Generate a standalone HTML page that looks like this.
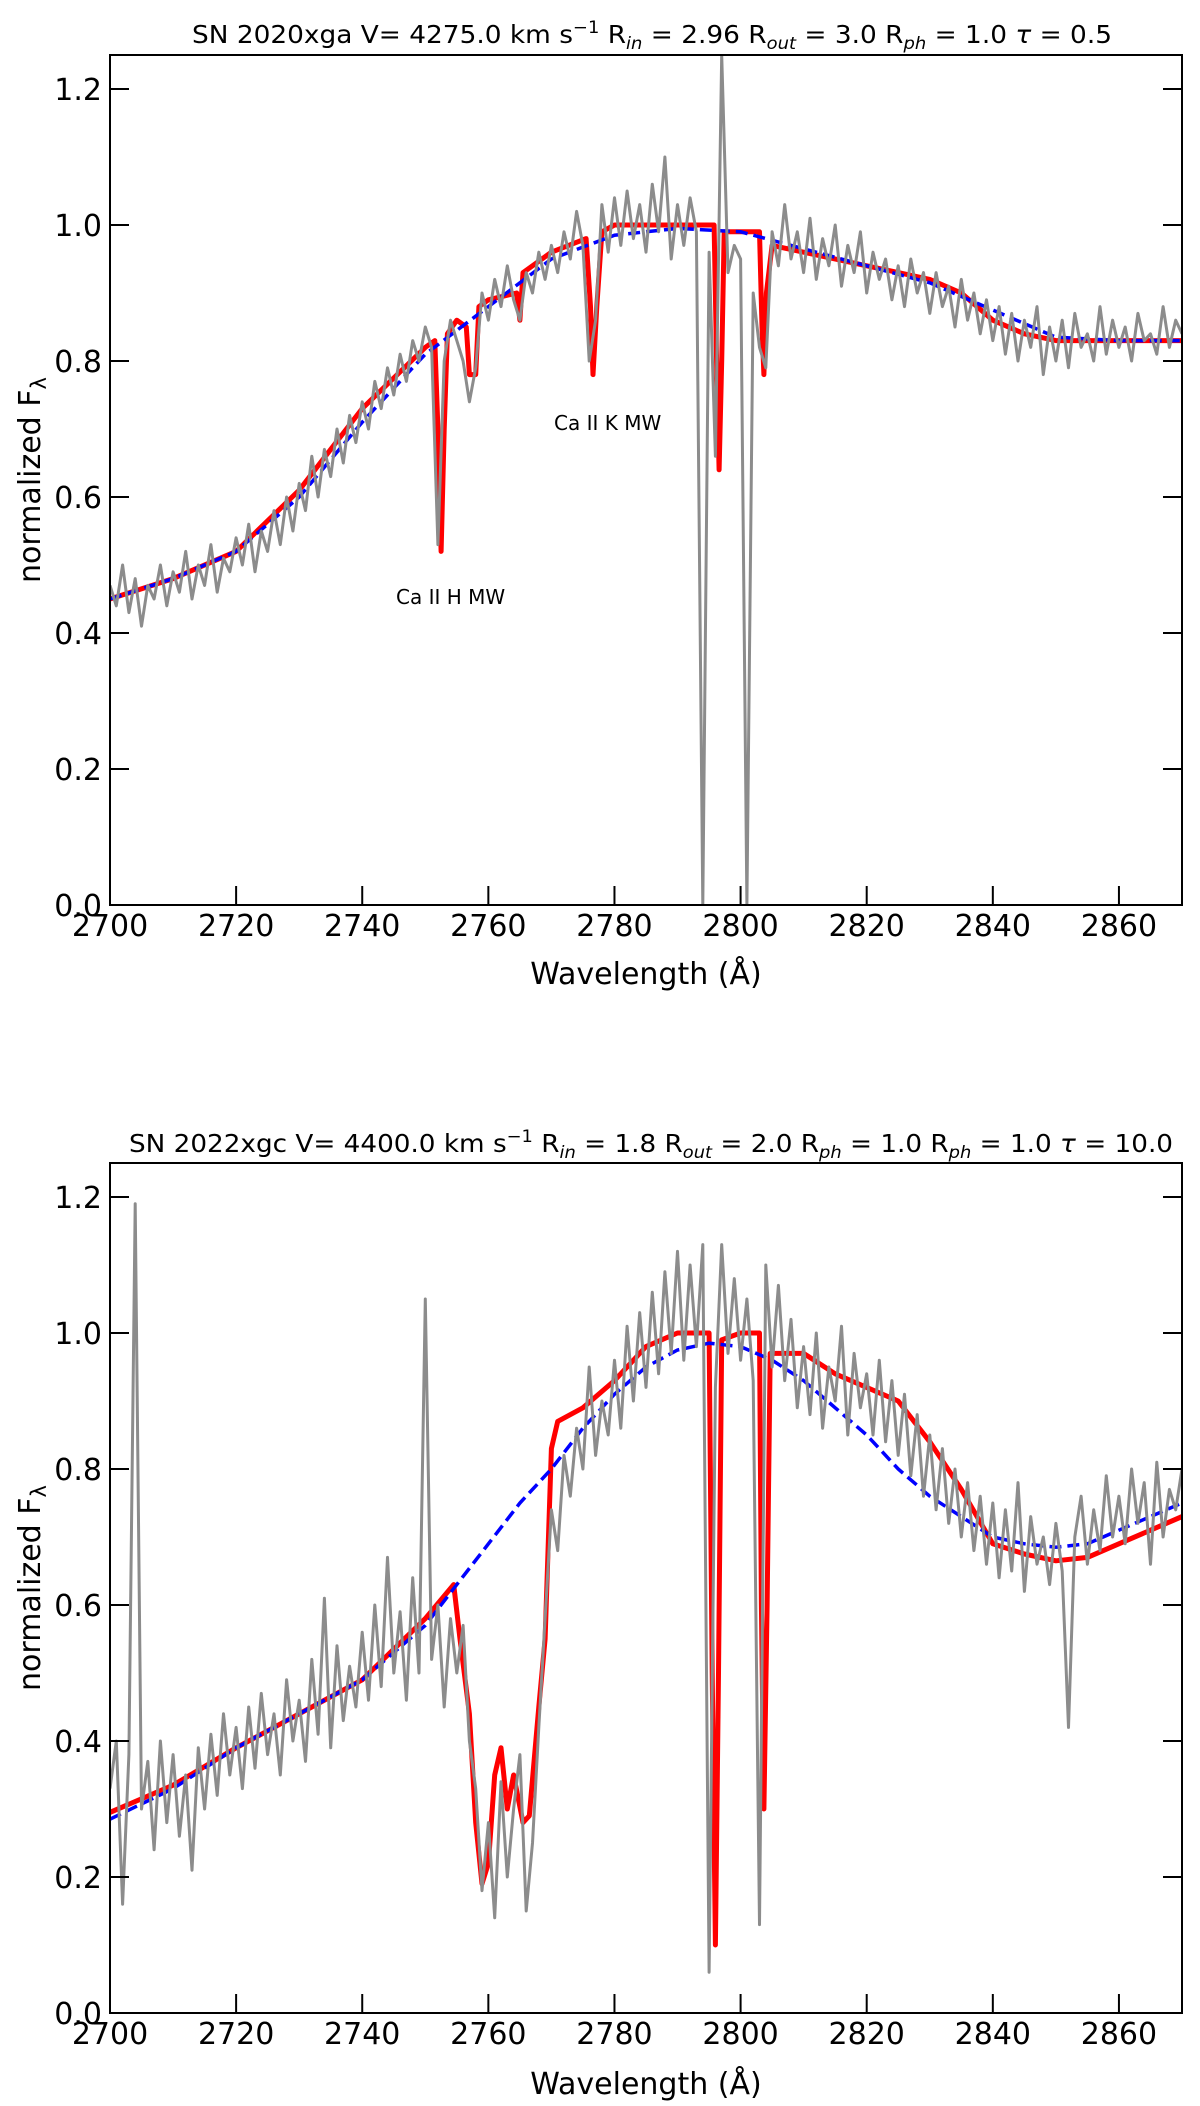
<!DOCTYPE html>
<html><head><meta charset="utf-8"><style>
body{margin:0;background:#fff}
svg{display:block;font-family:"DejaVu Sans","Liberation Sans",sans-serif}
</style></head><body>
<svg id="fig" width="1200" height="2106" viewBox="0 0 1200 2106">
<text x="652" y="43" font-size="25" text-anchor="middle" textLength="920" lengthAdjust="spacingAndGlyphs">SN 2020xga V= 4275.0 km s<tspan dy="-10" font-size="17">−1</tspan><tspan dy="10"> R</tspan><tspan dy="6" font-size="17" font-style="italic">in</tspan><tspan dy="-6"> = 2.96 R</tspan><tspan dy="6" font-size="17" font-style="italic">out</tspan><tspan dy="-6"> = 3.0 R</tspan><tspan dy="6" font-size="17" font-style="italic">ph</tspan><tspan dy="-6"> = 1.0 </tspan><tspan font-style="italic">τ</tspan> = 0.5</text>
<text x="651" y="1152" font-size="25" text-anchor="middle" textLength="1044" lengthAdjust="spacingAndGlyphs">SN 2022xgc V= 4400.0 km s<tspan dy="-10" font-size="17">−1</tspan><tspan dy="10"> R</tspan><tspan dy="6" font-size="17" font-style="italic">in</tspan><tspan dy="-6"> = 1.8 R</tspan><tspan dy="6" font-size="17" font-style="italic">out</tspan><tspan dy="-6"> = 2.0 R</tspan><tspan dy="6" font-size="17" font-style="italic">ph</tspan><tspan dy="-6"> = 1.0 R</tspan><tspan dy="6" font-size="17" font-style="italic">ph</tspan><tspan dy="-6"> = 1.0 </tspan><tspan font-style="italic">τ</tspan> = 10.0</text>
<text x="554" y="430" font-size="20">Ca II K MW</text>
<text x="396" y="604" font-size="20">Ca II H MW</text>
</svg>
<script>
// ---------- top panel data ----------
const topGrayStart = 2700;
const topGrayFlux = [.47,.44,.50,.43,.48,.41,.47,.45,.50,.44,.49,
.46,.52,.45,.50,.47,.53,.46,.51,.49,.54,
.50,.56,.49,.55,.52,.58,.53,.60,.55,.62,
.58,.66,.60,.67,.63,.70,.65,.72,.68,.74,
.70,.77,.73,.79,.75,.81,.77,.83,.80,.85,
.82,.53,.80,.86,.83,.80,.74,.79,.90,.86,
.92,.88,.94,.89,.86,.93,.90,.96,.92,.97,
.93,.99,.95,1.02,.97,.80,.86,1.03,.96,1.04,
.97,1.05,.98,1.03,.96,1.06,.99,1.10,.95,1.03,
.97,1.04,.99,0.0,.96,.66,1.25,.93,.97,.95,
0.0,.90,.82,.79,.99,.94,1.03,.95,.99,.93,
1.01,.92,.98,.94,1.00,.91,.97,.93,.99,.90,
.96,.92,.95,.89,.94,.88,.95,.90,.93,.87,
.93,.88,.91,.85,.92,.86,.90,.84,.89,.83,
.88,.81,.87,.80,.86,.82,.88,.78,.85,.80,
.86,.79,.87,.82,.84,.80,.88,.81,.86,.82,
.85,.80,.87,.83,.84,.81,.88,.82,.86,.84];
const topRedWave = [2700,2710,2720,2730,2740,2750,2751.5,2752,2752.5,2753,2753.5,2755,2756.5,2757,2758,2758.5,2760,2764.5,2765,2765.5,2770,2775.5,2776.2,2776.6,2777.2,2778,2780,2790,2795.8,2796.2,2796.6,2797,2797.4,2803,2803.4,2803.7,2804.1,2805,2810,2820,2830,2835,2840,2845,2850,2870];
const topRedFlux = [.45,.48,.52,.61,.73,.82,.83,.70,.52,.70,.84,.86,.85,.78,.78,.88,.89,.90,.86,.93,.96,.98,.88,.78,.88,.99,1.0,1.0,1.0,.80,.64,.80,.99,.99,.85,.78,.90,.97,.96,.94,.92,.90,.86,.84,.83,.83];
const topBlueWave = [2700,2710,2720,2730,2740,2750,2760,2770,2780,2790,2800,2810,2820,2830,2840,2850,2860,2870];
const topBlueFlux = [.45,.48,.52,.60,.71,.81,.88,.95,.985,.995,.99,.965,.94,.915,.875,.835,.83,.83];
// ---------- bottom panel data ----------
const botGrayStart = 2700;
const botGrayFlux = [.33,.40,.16,.38,1.19,.30,.37,.24,.40,.28,.38,
.26,.35,.21,.39,.30,.41,.32,.44,.35,.42,
.33,.45,.36,.47,.38,.44,.35,.49,.40,.46,
.37,.52,.41,.61,.39,.54,.43,.51,.45,.56,
.46,.60,.48,.67,.50,.59,.46,.64,.50,1.05,
.52,.60,.45,.58,.50,.57,.40,.33,.18,.28,
.14,.34,.20,.30,.38,.15,.25,.42,.58,.74,
.68,.82,.76,.86,.80,.95,.82,.90,.85,.96,
.86,1.01,.90,1.03,.92,1.06,.94,1.09,.97,1.12,
.96,1.10,.98,1.13,.06,.92,1.13,.97,1.08,.96,
1.05,.93,.13,1.10,.95,1.07,.93,1.02,.89,.98,
.88,1.00,.86,.95,.90,1.01,.85,.97,.89,.94,
.85,.96,.84,.93,.82,.91,.79,.88,.76,.85,
.74,.83,.72,.80,.70,.78,.68,.76,.66,.75,
.64,.74,.65,.78,.62,.73,.66,.70,.63,.72,
.65,.42,.70,.76,.66,.74,.68,.79,.70,.76,
.69,.80,.72,.78,.66,.81,.70,.77,.74,.80];
const botRedWave = [2700,2710,2720,2730,2740,2750,2754.5,2755.5,2757,2758,2759,2760,2761,2762,2763,2764,2765.5,2766.5,2768,2769,2770,2771,2775,2780,2785,2790,2795,2795.5,2796,2796.5,2797,2800,2803,2803.3,2803.7,2804.2,2804.7,2810,2815,2820,2825,2830,2835,2840,2845,2850,2855,2860,2865,2870];
const botRedFlux = [.295,.335,.39,.44,.49,.58,.63,.55,.44,.28,.19,.22,.35,.39,.30,.35,.28,.29,.45,.55,.83,.87,.89,.93,.98,1.0,1.0,.5,.1,.5,.99,1.0,1.0,.6,.30,.6,.97,.97,.94,.92,.90,.84,.77,.69,.675,.665,.67,.69,.71,.73];
const botBlueWave = [2700,2710,2720,2730,2740,2750,2755,2760,2765,2770,2775,2780,2785,2790,2795,2800,2805,2810,2815,2820,2825,2830,2835,2840,2845,2850,2855,2860,2865,2870];
const botBlueFlux = [.285,.33,.39,.44,.49,.57,.63,.69,.75,.80,.86,.91,.95,.975,.985,.98,.96,.93,.89,.85,.80,.76,.73,.70,.69,.685,.69,.71,.73,.75];
const xTicks = [2700,2720,2740,2760,2780,2800,2820,2840,2860];
const yTicks = [0.0,0.2,0.4,0.6,0.8,1.0,1.2];

const NS='http://www.w3.org/2000/svg';
const svg=document.getElementById('fig');
function mk(tag,attrs,parent){const e=document.createElementNS(NS,tag);for(const k in attrs)e.setAttribute(k,attrs[k]);(parent||svg).appendChild(e);return e;}
const X0=110,X1=1182,W0=2700,W1=2870;
function xs(w){return X0+(w-W0)/(W1-W0)*(X1-X0);}
function panel(name,top,bottom,grayStart,grayFlux,redW,redF,blueW,blueF,labelY){
  const ys=f=>bottom-f/1.25*(bottom-top);
  const g=mk('g',{});
  
  
  const cp='clip-'+name;
  const defs=mk('defs',{},g);
  const c=mk('clipPath',{id:cp},defs);
  mk('rect',{x:X0,y:top,width:X1-X0,height:bottom-top},c);
  const pg=mk('g',{'clip-path':'url(#'+cp+')'},g);
  let d='';
  redW.forEach((w,i)=>{d+=(i?'L':'M')+xs(w).toFixed(1)+' '+ys(redF[i]).toFixed(1);});
  const r=mk('path',{d:d,fill:'none',stroke:'#ff0000','stroke-width':5,'stroke-linejoin':'round'},pg);
  
  
  d='';
  blueW.forEach((w,i)=>{d+=(i?'L':'M')+xs(w).toFixed(1)+' '+ys(blueF[i]).toFixed(1);});
  const b=mk('path',{d:d,fill:'none',stroke:'#0000ff','stroke-width':3.5,'stroke-dasharray':'12 6'},pg);
  
  
  d='';
  grayFlux.forEach((f,i)=>{d+=(i?'L':'M')+xs(grayStart+i).toFixed(1)+' '+ys(f).toFixed(1);});
  const s=mk('path',{d:d,fill:'none',stroke:'#8c8c8c','stroke-width':3,'stroke-linejoin':'round'},pg);
  
  
  const fr=mk('rect',{x:X0,y:top,width:X1-X0,height:bottom-top,fill:'none',stroke:'#000','stroke-width':2},g);
  
  
  xTicks.forEach(t=>{
    const x=xs(t);
    mk('line',{x1:x,x2:x,y1:bottom,y2:bottom-19,stroke:'#000','stroke-width':2},g);
    const tl=mk('text',{x:x,y:bottom+31,'font-size':30,'text-anchor':'middle'},g);
    tl.textContent=t;
    
    
  });
  yTicks.forEach(t=>{
    const y=ys(t);
    mk('line',{x1:X0,x2:X0+19,y1:y,y2:y,stroke:'#000','stroke-width':2},g);
    mk('line',{x1:X1,x2:X1-19,y1:y,y2:y,stroke:'#000','stroke-width':2},g);
    const tl=mk('text',{x:102,y:y+11,'font-size':30,'text-anchor':'end'},g);
    tl.textContent=t.toFixed(1);
    
    
  });
  const xl=mk('text',{x:646,y:labelY,'font-size':30,'text-anchor':'middle'},g);
  xl.textContent='Wavelength (Å)';
  
  
  const cy=(top+bottom)/2;
  const yl=mk('text',{x:40,y:cy,'font-size':30,'text-anchor':'middle',transform:'rotate(-90 40 '+cy+')'},g);
  yl.innerHTML='normalized F<tspan dy="6" font-size="21">λ</tspan>';
  
  
}
panel('top-panel',55,905,topGrayStart,topGrayFlux,topRedWave,topRedFlux,topBlueWave,topBlueFlux,984);
panel('bottom-panel',1163,2013,botGrayStart,botGrayFlux,botRedWave,botRedFlux,botBlueWave,botBlueFlux,2094);
</script>
</body></html>
